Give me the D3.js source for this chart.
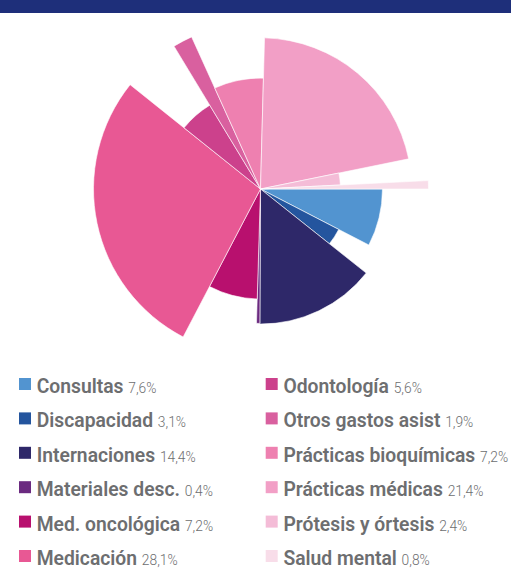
<!DOCTYPE html>
<html>
<head>
<meta charset="utf-8">
<script src="https://cdn.jsdelivr.net/npm/d3@7"></script>
<style>
  body { margin: 0; background: #fff; }
  svg { display: block; }
</style>
</head>
<body>
<div id="chart"></div>
<script>
// datos
const categorias = ["Consultas", "Discapacidad", "Internaciones", "Materiales desc.", "Med. oncológica", "Medicación",
  "Odontología", "Otros gastos asist", "Prácticas bioquímicas", "Prácticas médicas", "Prótesis y órtesis", "Salud mental"];
const porcentajes = [7.6, 3.1, 14.4, 0.4, 7.2, 28.1, 5.6, 1.9, 7.2, 21.4, 2.4, 0.8];
// largo relativo de cada porción (0-100)
const largos = [72.6, 52.4, 80.4, 80, 65.5, 99.4, 58.3, 99.4, 66, 90, 47.6, 100];
const colores = ["#5294d0", "#24559e", "#2e2869", "#6b2a80", "#b8106e", "#e85894",
  "#cc418c", "#d9609f", "#ee80b0", "#f29fc6", "#f4bcd7", "#f8dde9"];

const width = 511, height = 568;
const cx = 260.5, cy = 189;

const svg = d3.select("#chart").append("svg")
  .attr("width", width)
  .attr("height", height);

// franja superior
svg.append("rect")
  .attr("x", 0).attr("y", 0)
  .attr("width", width).attr("height", 13)
  .attr("fill", "#1e2f7a");

const datos = categorias.map((c, i) => ({ nombre: c, valor: porcentajes[i], largo: largos[i], color: colores[i] }));

const r = d3.scaleLinear().domain([0, 100]).range([0, 168]);

const pie = d3.pie()
  .value(d => d.valor)
  .sort(null)
  .startAngle(Math.PI / 2)
  .endAngle(Math.PI / 2 + 2 * Math.PI);

const arc = d3.arc()
  .innerRadius(0)
  .outerRadius(d => r(d.data.largo));

const g = svg.append("g")
  .attr("transform", `translate(${cx},${cy})`);

g.selectAll("path")
  .data(pie(datos))
  .join("path")
  .attr("d", arc)
  .attr("fill", d => d.data.color)
  .attr("stroke", "#fff")
  .attr("stroke-width", 0.6);

// leyenda
const fmt = v => d3.format(".1f")(v).replace(".", ",") + "%";
const leyenda = svg.append("g").attr("class", "leyenda");
const filas = leyenda.selectAll("g")
  .data(datos)
  .join("g")
  .attr("transform", (d, i) => {
    const col = Math.floor(i / 6), fila = i % 6;
    return `translate(${19 + col * 246.7},${384 + fila * 34.4})`;
  });

filas.append("rect")
  .attr("x", 0).attr("y", -6)
  .attr("width", 12).attr("height", 12)
  .attr("fill", d => d.color);

// texto angosto: Roboto comprimido en horizontal
filas.append("text")
  .attr("transform", "translate(17.7,9) scale(0.92,1)")
  .style("font-family", "Roboto, sans-serif")
  .style("font-size", "21px")
  .style("fill", "#6d6e70")
  .each(function (d) {
    const t = d3.select(this);
    t.append("tspan").style("font-weight", 600).text(d.nombre + " ");
    t.append("tspan").style("font-weight", 300).style("font-size", "15px").text(fmt(d.valor));
  });
</script>
</body>
</html>
